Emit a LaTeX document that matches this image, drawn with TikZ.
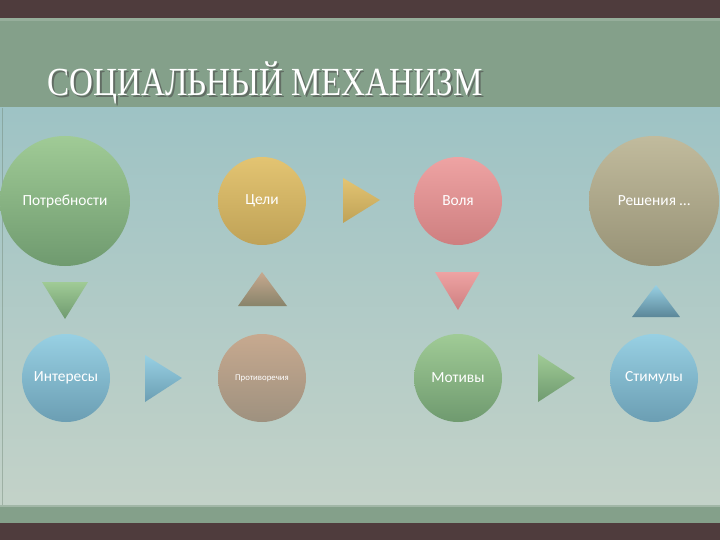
\documentclass[tikz,border=0pt]{standalone}
\usepackage{fontspec}
\setmainfont{Carlito}
\newfontfamily\titlefont{Liberation Serif}
\definecolor{darkband}{HTML}{4F3C3D}
\definecolor{greenband}{HTML}{84A08A}
\definecolor{paneltop}{HTML}{9EC3C5}
\definecolor{panelbot}{HTML}{C3D2C8}
\definecolor{gtop}{HTML}{A0CB96}\definecolor{gbot}{HTML}{6F9A6F}
\definecolor{ytop}{HTML}{E3C472}\definecolor{ybot}{HTML}{BFA257}
\definecolor{ptop}{HTML}{EEA3A3}\definecolor{pbot}{HTML}{CE7F80}
\definecolor{ttop}{HTML}{C1BB9D}\definecolor{tbot}{HTML}{979276}
\definecolor{btop}{HTML}{98D0E3}\definecolor{bbot}{HTML}{6B9EB3}
\definecolor{ctop}{HTML}{C7A98F}\definecolor{cbot}{HTML}{9E917F}
\tikzset{
  lab/.style={text=white,font=\fontsize{15.5}{17}\selectfont}
}
\begin{document}
\begin{tikzpicture}[x=1bp,y=-1bp]
\useasboundingbox (0,0) rectangle (720,540);
% background
\fill[darkband] (0,0) rectangle (720,18);
\fill[greenband] (0,18) rectangle (720,108);
\fill[white,opacity=0.15] (0,18) rectangle (720,21);
\shade[top color=paneltop,bottom color=panelbot] (0,108) rectangle (720,505);
\draw[greenband!80!black,opacity=0.4,line width=1bp] (2,108) -- (2,505);
\fill[greenband] (0,505) rectangle (720,523);
\fill[white,opacity=0.25] (0,505) rectangle (720,507);
\fill[darkband] (0,523) rectangle (720,540);
% title
\node[anchor=base west,xscale=0.83,text=black!70,opacity=0.6,font=\titlefont\fontsize{40}{44}\selectfont] (titleshadow) at (46.5,97.5) {СОЦИАЛЬНЫЙ МЕХАНИЗМ};
\node[anchor=base west,xscale=0.83,text=white,font=\titlefont\fontsize{40}{44}\selectfont] (title) at (45,96) {СОЦИАЛЬНЫЙ МЕХАНИЗМ};
% circles top row
\shade[top color=gtop,bottom color=gbot] (65,201) circle (65);
\node[lab] (potr) at (65,201) {Потребности};
\shade[top color=ytop,bottom color=ybot] (262,201) circle (44);
\node[lab] (celi) at (262,201) {Цели};
\shade[top color=ptop,bottom color=pbot] (458,201) circle (44);
\node[lab] (volya) at (458,201) {Воля};
\shade[top color=ttop,bottom color=tbot] (654,201) circle (65);
\node[lab] (resh) at (654,201) {Решения …};
% circles bottom row
\shade[top color=btop,bottom color=bbot] (66,378) circle (44);
\node[lab] (inter) at (66,378) {Интересы};
\shade[top color=ctop,bottom color=cbot] (262,378) circle (44);
\node[text=white,font=\fontsize{8.8}{10}\selectfont] (protiv) at (262,378) {Противоречия};
\shade[top color=gtop,bottom color=gbot] (458,378) circle (44);
\node[lab] (motiv) at (458,378) {Мотивы};
\shade[top color=btop,bottom color=bbot] (654,378) circle (44);
\node[lab] (stim) at (654,378) {Стимулы};
% triangles
\shade[top color=ytop,bottom color=ybot] (343,178) -- (380,200) -- (343,223) -- cycle;
\shade[top color=gtop,bottom color=gbot] (42,282) -- (88,282) -- (65,319) -- cycle;
\shade[top color=ctop,bottom color=tbot!90!black] (262,272) -- (287,306) -- (238,306) -- cycle;
\shade[top color=ptop,bottom color=pbot] (435,272) -- (480,272) -- (458,310) -- cycle;
\shade[top color=btop,bottom color=bbot!85!black] (656,285) -- (680,317) -- (632,317) -- cycle;
\shade[top color=btop,bottom color=bbot] (145,355) -- (182,378) -- (145,402) -- cycle;
\shade[top color=gtop,bottom color=gbot] (538,354) -- (575,378) -- (538,402) -- cycle;
\end{tikzpicture}
\end{document}
